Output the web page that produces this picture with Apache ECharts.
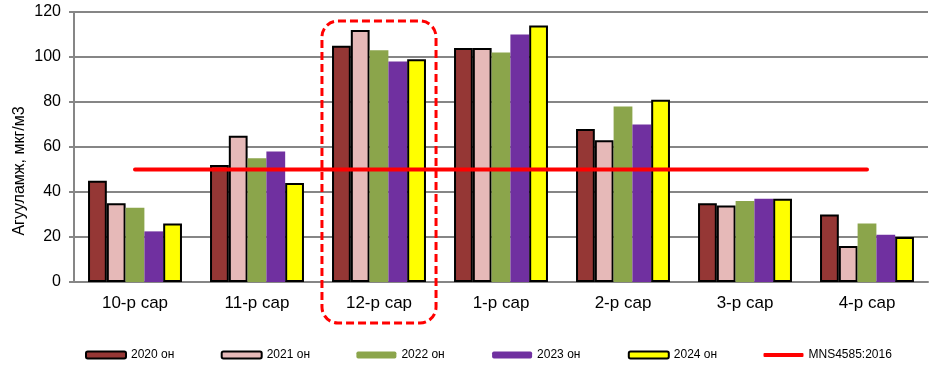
<!DOCTYPE html>
<html>
<head>
<meta charset="utf-8">
<script src="https://cdn.jsdelivr.net/npm/echarts@6/dist/echarts.min.js"></script>
<style>
  html, body { margin: 0; padding: 0; background: #fff; }
  #chart { width: 945px; height: 376px; }
</style>
</head>
<body>
<div id="chart"></div>
<script>
const months = ['10-р сар', '11-р сар', '12-р сар', '1-р сар', '2-р сар', '3-р сар', '4-р сар'];
const y2020 = [45, 52, 105, 104, 68, 35, 30];
const y2021 = [35, 65, 112, 104, 63, 34, 16];
const y2022 = [33, 55, 103, 102, 78, 36, 26];
const y2023 = [22.5, 58, 98, 110, 70, 37, 21];
const y2024 = [26, 44, 99, 114, 81, 37, 20];
const limit = [50, 50, 50, 50, 50, 50, 50];
const yTicks = [0, 20, 40, 60, 80, 100, 120];
const legendNames = ['2020 он', '2021 он', '2022 он', '2023 он', '2024 он', 'MNS4585:2016'];

const font = '"Liberation Sans", Arial, sans-serif';

const chart = echarts.init(document.getElementById('chart'), null, {renderer: 'canvas'});

function bar(name, data, color, bordered) {
    return {
        name: name,
        type: 'bar',
        data: data,
        barGap: '0%',
        barCategoryGap: '23%',
        itemStyle: {
            color: color,
            borderColor: bordered ? '#000' : color,
            borderWidth: bordered ? 2 : 0
        }
    };
}

// one legend per entry so they sit at even spacing like the original
const legends = legendNames.map((n, i) => ({
    left: 80 + i * 135.7,
    top: 344,
    itemWidth: 40,
    itemHeight: i === 5 ? 4 : 7,
    icon: i === 5 ? 'roundRect' : undefined,
    textStyle: {fontFamily: font, fontSize: 12, color: '#000'},
    data: [n]
}));

const option = {
    animation: false,
    grid: {left: 74, right: 17, top: 12, bottom: 94},
    legend: legends,
    xAxis: {
        type: 'category',
        data: months,
        axisLine: {lineStyle: {color: '#868686', width: 2}},
        axisTick: {show: false},
        axisLabel: {fontFamily: font, fontSize: 17, color: '#000', margin: 13}
    },
    yAxis: {
        type: 'value',
        min: yTicks[0],
        max: yTicks[yTicks.length - 1],
        interval: 20,
        axisLine: {show: true, lineStyle: {color: '#868686', width: 2}},
        axisTick: {show: true, length: 5, lineStyle: {color: '#868686', width: 2}},
        axisLabel: {fontFamily: font, fontSize: 16, color: '#000', margin: 13},
        splitLine: {lineStyle: {color: '#868686', width: 2}}
    },
    series: [
        bar('2020 он', y2020, '#953735', true),
        bar('2021 он', y2021, '#E6B9B8', true),
        bar('2022 он', y2022, '#8BA54B', false),
        bar('2023 он', y2023, '#7030A0', false),
        bar('2024 он', y2024, '#FFFF00', true),
        {
            name: 'MNS4585:2016',
            type: 'line',
            data: limit,
            symbol: 'none',
            z: 5,
            lineStyle: {color: '#FF0000', width: 4, cap: 'round'},
            itemStyle: {color: '#FF0000'}
        }
    ]
};

chart.setOption(option);

// dashed highlight around the 12-р сар group, plus the y axis title
const boxCx = chart.convertToPixel({xAxisIndex: 0}, 2);
const boxTop = chart.convertToPixel({yAxisIndex: 0}, 116);
const bandW = (945 - 74 - 17) / months.length;
const boxW = bandW * 0.935;
chart.setOption({
    graphic: [{
        type: 'rect',
        shape: {x: boxCx - boxW / 2, y: boxTop, width: boxW, height: 323 - boxTop, r: 16},
        style: {fill: 'none', stroke: '#FF0000', lineWidth: 3, lineDash: [8, 4]},
        z: 10
    }, {
        type: 'text',
        x: 20,
        y: 171,
        rotation: Math.PI / 2,
        style: {
            text: 'Агууламж, мкг/м3',
            font: '16px ' + font,
            fill: '#000',
            align: 'center',
            verticalAlign: 'middle'
        }
    }]
});
</script>
</body>
</html>
